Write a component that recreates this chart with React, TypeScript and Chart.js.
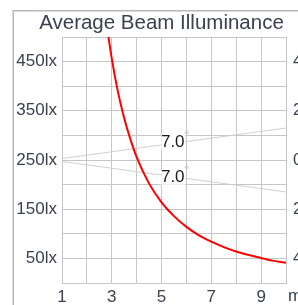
import { useEffect, useRef } from 'react';
import { Chart, registerables } from 'chart.js';

Chart.register(...registerables);

const titleText = 'Average Beam Illuminance';
const distances = [2.8, 3, 3.25, 3.5, 3.75, 4, 4.5, 5, 5.5, 6, 6.5, 7, 7.5, 8, 8.5, 9, 9.5, 10];
const illuminance = [523, 456, 388, 335, 292, 256, 202, 164, 136, 114, 97, 84, 73, 64, 57, 51, 45, 41];
const beamX = [1, 10];
const beamUpper = [253, 315];
const beamLower = [247, 185];
const leftTickValues = [50, 150, 250, 350, 450];
const leftTickLabels = ['50lx', '150lx', '250lx', '350lx', '450lx'];
const rightTickLabels = ['4m', '2m', '0', '2m', '4m'];
const xTickValues = [1, 3, 5, 7, 9];
const xUnit = 'm';
const beamLabels = ['7.0', '7.0'];
const beamLabelX = [5.45, 5.45];
const beamLabelY = [286, 215];

const TEXT = '#3a4250';
const GRID = '#c6c6c6';
const FONT = '"Liberation Sans", Arial, sans-serif';

export default function App() {
  const ref = useRef<HTMLCanvasElement | null>(null);
  useEffect(() => {
    if (!ref.current) return;
    const extras = {
      id: 'extras',
      beforeDraw(chart: any) {
        const ctx = chart.ctx;
        ctx.save();
        ctx.strokeStyle = '#b8b8b8';
        ctx.lineWidth = 1.5;
        ctx.strokeRect(13.25, 10.75, 600, 600);
        ctx.restore();
      },
      afterDatasetsDraw(chart: any) {
        const ctx = chart.ctx;
        const xs = chart.scales.x;
        const ys = chart.scales.y;
        ctx.save();
        ctx.font = `17px ${FONT}`;
        ctx.textAlign = 'center';
        ctx.textBaseline = 'middle';
        beamLabels.forEach((t, i) => {
          const px = xs.getPixelForValue(beamLabelX[i]);
          const py = ys.getPixelForValue(beamLabelY[i]);
          ctx.fillStyle = '#ffffff';
          ctx.fillRect(px - 11.5, py - 7.5, 24, 15);
          ctx.fillStyle = '#1a1a1a';
          ctx.fillText(t, px, py + 0.5);
          ctx.beginPath();
          ctx.strokeStyle = '#c8c8c8';
          ctx.lineWidth = 1;
          ctx.arc(px + 14, py - 10, 1.5, 0, Math.PI * 2);
          ctx.stroke();
        });
        // unit label
        ctx.fillStyle = TEXT;
        ctx.textAlign = 'left';
        ctx.fillText(xUnit, xs.getPixelForValue(10) + 2, 296.5);
        // title
        ctx.font = `20.5px ${FONT}`;
        ctx.textAlign = 'center';
        ctx.fillText(titleText, 161.5, 23.5);
        ctx.restore();
      },
    };
    const chart = new Chart(ref.current, {
      type: 'line',
      data: {
        datasets: [
          {
            data: distances.map((d, i) => ({ x: d, y: illuminance[i] })),
            borderColor: '#ff0000',
            borderWidth: 2,
            pointRadius: 0,
            cubicInterpolationMode: 'monotone',
            fill: false,
          },
          {
            data: beamX.map((d, i) => ({ x: d, y: beamUpper[i] })),
            borderColor: '#d0d0d0',
            borderWidth: 1,
            pointRadius: 0,
            fill: false,
          },
          {
            data: beamX.map((d, i) => ({ x: d, y: beamLower[i] })),
            borderColor: '#d0d0d0',
            borderWidth: 1,
            pointRadius: 0,
            fill: false,
          },
        ],
      },
      options: {
        responsive: false,
        animation: false,
        layout: { padding: { top: 37, left: 0, right: 0, bottom: 0 } },
        plugins: { legend: { display: false }, tooltip: { enabled: false }, title: { display: false } },
        scales: {
          x: {
            type: 'linear',
            min: 1,
            max: 10,
            afterFit: (s: any) => { s.height = 22; },
            grid: { color: GRID, drawTicks: false },
            border: { color: GRID },
            ticks: {
              stepSize: 1,
              autoSkip: false,
              maxRotation: 0,
              padding: 4,
              color: TEXT,
              font: { size: 17, family: FONT },
              callback: (v: any) => (xTickValues.includes(Number(v)) ? String(v) : ''),
            },
          },
          y: {
            min: 0,
            max: 500,
            afterFit: (s: any) => { s.width = 62; },
            grid: { color: GRID, drawTicks: false },
            border: { color: GRID },
            ticks: {
              stepSize: 50,
              autoSkip: false,
              padding: 5,
              color: TEXT,
              font: { size: 17, family: FONT },
              callback: (v: any) => {
                const i = leftTickValues.indexOf(Number(v));
                return i >= 0 ? leftTickLabels[i] : '';
              },
            },
          },
          y2: {
            position: 'right',
            min: 0,
            max: 500,
            afterFit: (s: any) => { s.width = 12; },
            grid: { display: false, drawTicks: false },
            border: { display: false },
            ticks: {
              stepSize: 50,
              autoSkip: false,
              padding: 7,
              color: TEXT,
              font: { size: 17, family: FONT },
              callback: (v: any) => {
                const i = leftTickValues.indexOf(Number(v));
                return i >= 0 ? rightTickLabels[rightTickLabels.length - 1 - i] : '';
              },
            },
          },
        },
      },
      plugins: [extras],
    } as any);
    return () => chart.destroy();
  }, []);
  return (
    <div style={{ position: 'fixed', left: 0, top: 0, width: 298, height: 305, overflow: 'hidden', background: '#fff' }}>
      <canvas ref={ref} width={298} height={305} style={{ width: 298, height: 305, display: 'block' }} />
    </div>
  );
}
